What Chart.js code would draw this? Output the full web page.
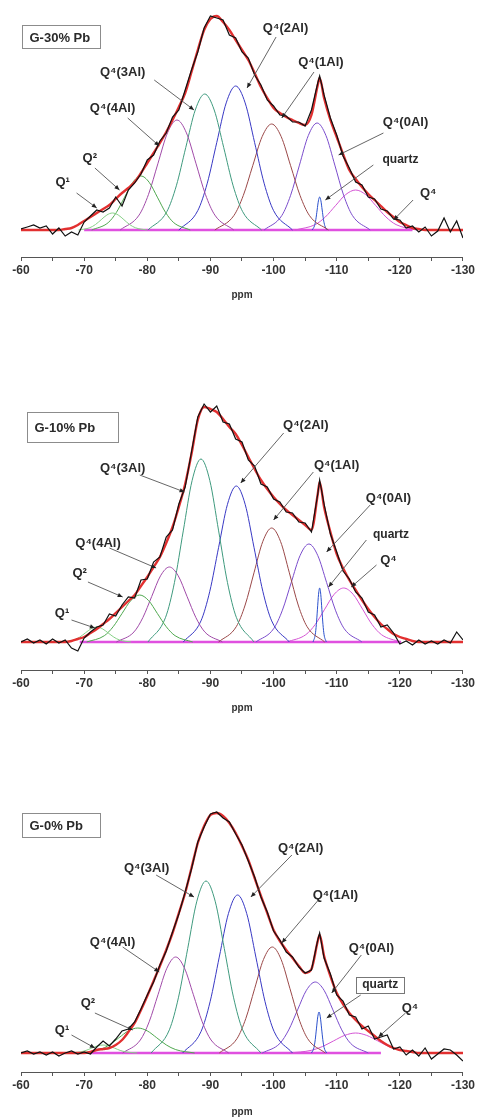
<!DOCTYPE html>
<html><head><meta charset="utf-8">
<script src="https://cdn.jsdelivr.net/npm/chart.js@4.4.1/dist/chart.umd.min.js"></script>
<style>
html,body{margin:0;padding:0;background:#fff;width:477px;height:1118px;overflow:hidden}
.p{position:absolute;left:0;width:477px}
</style></head><body>
<div class="p" style="top:0;height:301px"><canvas id="c30" width="477" height="301"></canvas></div>
<div class="p" style="top:380px;height:334px"><canvas id="c10" width="477" height="334"></canvas></div>
<div class="p" style="top:790px;height:328px"><canvas id="c0" width="477" height="328"></canvas></div>
<script>
// ---------- shared x grid (ppm) ----------
const ppm = [-60,-61,-62,-63,-64,-65,-66,-67,-68,-69,-70,-71,-72,-73,-74,-75,-76,-77,-78,-79,-80,-81,-82,-83,-84,-85,-86,-87,-88,-89,-90,-91,-92,-93,-94,-95,-96,-97,-98,-99,-100,-101,-102,-103,-104,-105,-106,-107,-107.3,-108,-109,-110,-111,-112,-113,-114,-115,-116,-117,-118,-119,-120,-121,-122,-123,-124,-125,-126,-127,-128,-129,-130];
const tickValues = [-60,-70,-80,-90,-100,-110,-120,-130];
const componentNames = ['Q¹','Q²','Q⁴(4Al)','Q⁴(3Al)','Q⁴(2Al)','Q⁴(1Al)','Q⁴(0Al)','quartz','Q⁴'];

// ---------- G-30% Pb ----------
const exp30 = [1,3,5,2,4,-4,2, -6,-2,-5,8,14,20,18,22,33,24, 40,47,56,70,75,89,97,113,120,140, 160,178,202,214,212,210,195,192,178,172, 155,145,130,124,115,114,108,108,104,120, 147, 154, 135,112,95,74,62,48,45,33,31,21,19,11,10,2,4,-2, 3,-6,-1,12,-2,9,-8];
const fit30 = [0,0,0,0,0,0,0, 1,2,5,9,13,17,21,25,31,37, 42,48,57,67,77,87,98,110,123,137, 158,180,200,211,214,208,200,190,180,170, 157,143,132,122,117,113,110,107,105,115, 145, 152, 132,110,93,76,60,51,43,36,30,24,18,13,8,5,2,1, 0,0,0,0,0,0,0];
const g30_Q1   = [[-69.1,0],[-70.9,2.3],[-71.8,5.5],[-72.7,10.3],[-73.6,15],[-74.5,17],[-75.4,15],[-76.3,10.3],[-77.2,5.5],[-78.1,2.3],[-79.9,0]];
const g30_Q2   = [[-71.2,0],[-73.8,7.3],[-75.1,17.5],[-76.4,32.8],[-77.7,47.7],[-79,54],[-80.3,47.7],[-81.6,32.8],[-82.9,17.5],[-84.2,7.3],[-86.8,0]];
const g30_Q4Al = [[-75.7,0],[-78.7,14.9],[-80.2,35.7],[-81.7,66.8],[-83.2,97.1],[-84.7,110],[-86.2,97.1],[-87.7,66.8],[-89.2,35.7],[-90.7,14.9],[-93.7,0]];
const g30_Q3Al = [[-80.1,0],[-83.1,18.4],[-84.6,44.2],[-86.1,82.6],[-87.6,120],[-89.1,136],[-90.6,120],[-92.1,82.6],[-93.6,44.2],[-95.1,18.4],[-98.1,0]];
const g30_Q2Al = [[-85,0],[-88,19.4],[-89.5,46.8],[-91,87.4],[-92.5,127.1],[-94,144],[-95.5,127.1],[-97,87.4],[-98.5,46.8],[-100,19.4],[-103,0]];
const g30_Q1Al = [[-90.7,0],[-93.7,14.3],[-95.2,34.4],[-96.7,64.3],[-98.2,93.5],[-99.7,106],[-101.2,93.5],[-102.7,64.3],[-104.2,34.4],[-105.7,14.3],[-108.7,0]];
const g30_Q0Al = [[-98.5,0],[-101.3,14.4],[-102.7,34.7],[-104.1,64.9],[-105.5,94.4],[-106.9,107],[-108.3,94.4],[-109.7,64.9],[-111.1,34.7],[-112.5,14.4],[-115.3,0]];
const g30_qtz  = [[-106.1,0],[-106.5,4.5],[-106.7,10.7],[-106.9,20],[-107.1,29.1],[-107.3,33],[-107.5,29.1],[-107.7,20],[-107.9,10.7],[-108.1,4.5],[-108.5,0]];
const g30_Q4   = [[-103.4,0],[-106.6,5.4],[-108.2,13],[-109.8,24.3],[-111.4,35.3],[-113,40],[-114.6,35.3],[-116.2,24.3],[-117.8,13],[-119.4,5.4],[-122.6,0]];
const base30   = [[-70,0],[-122,0]];

// ---------- G-10% Pb ----------
const exp10 = [0,3,-1,2,-2,3,-1, 2,-6,-9,4,10,15,17,28,26,37, 45,44,62,63,80,85,105,112,138,155, 190,225,238,230,236,220,218,203,200,182, 176,158,155,143,140,130,129,120,119,110, 148, 162, 138,108,90,71,63,50,44,30,27,15,17,9,-2,1,-3,2, -2,1,-2,2,-1,10,2];
const fit10 = [0,0,0,0,0,0,0, 0,1,3,5,9,13,18,23,29,35, 41,47,56,65,75,85,99,115,135,158, 188,222,235,233,230,223,215,208,197,185, 173,162,153,145,138,132,127,122,117,112, 148, 160, 135,110,88,74,62,52,42,33,25,18,13,8,5,3,1,0, 0,0,0,0,0,0,0];
const g10_Q1   = [[-66.6,0],[-68.4,2],[-69.3,4.9],[-70.2,9.1],[-71.1,13.2],[-72,15],[-72.9,13.2],[-73.8,9.1],[-74.7,4.9],[-75.6,2],[-77.4,0]];
const g10_Q2   = [[-70.4,0],[-73.2,6.3],[-74.6,15.3],[-76,28.5],[-77.4,41.5],[-78.8,47],[-80.2,41.5],[-81.6,28.5],[-83,15.3],[-84.4,6.3],[-87.2,0]];
const g10_Q4Al = [[-75.1,0],[-77.9,10.1],[-79.3,24.4],[-80.7,45.5],[-82.1,66.2],[-83.5,75],[-84.9,66.2],[-86.3,45.5],[-87.7,24.4],[-89.1,10.1],[-91.9,0]];
const g10_Q3Al = [[-80.1,0],[-82.9,24.7],[-84.3,59.4],[-85.7,111.1],[-87.1,161.5],[-88.5,183],[-89.9,161.5],[-91.3,111.1],[-92.7,59.4],[-94.1,24.7],[-96.9,0]];
const g10_Q2Al = [[-85.7,0],[-88.5,21.1],[-89.9,50.7],[-91.3,94.7],[-92.7,137.7],[-94.1,156],[-95.5,137.7],[-96.9,94.7],[-98.3,50.7],[-99.7,21.1],[-102.5,0]];
const g10_Q1Al = [[-91.3,0],[-94.1,15.4],[-95.5,37],[-96.9,69.2],[-98.3,100.6],[-99.7,114],[-101.1,100.6],[-102.5,69.2],[-103.9,37],[-105.3,15.4],[-108.1,0]];
const g10_Q0Al = [[-97.2,0],[-100,13.2],[-101.4,31.8],[-102.8,59.5],[-104.2,86.5],[-105.6,98],[-107,86.5],[-108.4,59.5],[-109.8,31.8],[-111.2,13.2],[-114,0]];
const g10_qtz  = [[-106.25,0],[-106.6,7.3],[-106.775,17.5],[-106.95,32.8],[-107.125,47.7],[-107.3,54],[-107.475,47.7],[-107.65,32.8],[-107.825,17.5],[-108,7.3],[-108.35,0]];
const g10_Q4   = [[-102.1,0],[-105.1,7.3],[-106.6,17.5],[-108.1,32.8],[-109.6,47.7],[-111.1,54],[-112.6,47.7],[-114.1,32.8],[-115.6,17.5],[-117.1,7.3],[-120.1,0]];
const base10   = [[-69.3,0],[-120.2,0]];

// ---------- G-0% Pb ----------
const exp0 = [0,2,-1,1,-2,1,-3, 0,2,-1,1,-1,6,12,7,14,22, 24,31,44,58,71,88,102,121,139,161, 184,211,226,239,241,235,231,219,208,192, 176,156,141,122,113,101,96,86,80,83, 113, 120, 95,79,58,52,38,36,24,27,14,16,18,4,6,-2,3,-3, 5,-6,-1,4,3,-2,-8];
const fit0 = [0,0,0,0,0,0,0, 0,0,0,0,1,3,4,5,8,13, 21,30,43,57,72,87,103,120,140,160, 185,210,227,238,240,237,230,220,207,193, 175,157,140,123,112,103,95,87,80,84, 112, 118, 97,77,60,49,40,33,27,22,17,12,8,5,3,2,1,0, 0,0,0,0,0,0,0];
const g0_Q1   = [[-67.6,0],[-69.4,1.1],[-70.3,2.6],[-71.2,4.9],[-72.1,7.1],[-73,8],[-73.9,7.1],[-74.8,4.9],[-75.7,2.6],[-76.6,1.1],[-78.4,0]];
const g0_Q2   = [[-69.5,0],[-72.5,3.4],[-74,8.1],[-75.5,15.2],[-77,22.1],[-78.5,25],[-80,22.1],[-81.5,15.2],[-83,8.1],[-84.5,3.4],[-87.5,0]];
const g0_Q4Al = [[-76.1,0],[-78.9,13],[-80.3,31.2],[-81.7,58.3],[-83.1,84.7],[-84.5,96],[-85.9,84.7],[-87.3,58.3],[-88.7,31.2],[-90.1,13],[-92.9,0]];
const g0_Q3Al = [[-80.6,0],[-83.5,23.2],[-84.95,55.8],[-86.4,104.4],[-87.85,151.8],[-89.3,172],[-90.75,151.8],[-92.2,104.4],[-93.65,55.8],[-95.1,23.2],[-98,0]];
const g0_Q2Al = [[-85.6,0],[-88.5,21.3],[-89.95,51.3],[-91.4,95.9],[-92.85,139.4],[-94.3,158],[-95.75,139.4],[-97.2,95.9],[-98.65,51.3],[-100.1,21.3],[-103,0]];
const g0_Q1Al = [[-91.4,0],[-94.2,14.3],[-95.6,34.4],[-97,64.3],[-98.4,93.5],[-99.8,106],[-101.2,93.5],[-102.6,64.3],[-104,34.4],[-105.4,14.3],[-108.2,0]];
const g0_Q0Al = [[-98.2,0],[-101,9.6],[-102.4,23.1],[-103.8,43.1],[-105.2,62.7],[-106.6,71],[-108,62.7],[-109.4,43.1],[-110.8,23.1],[-112.2,9.6],[-115,0]];
const g0_qtz  = [[-106,0],[-106.4,5.5],[-106.6,13.3],[-106.8,24.9],[-107,36.2],[-107.2,41],[-107.4,36.2],[-107.6,24.9],[-107.8,13.3],[-108,5.5],[-108.4,0]];
const g0_Q4   = [[-102.5,0],[-106,2.7],[-107.75,6.5],[-109.5,12.1],[-111.25,17.6],[-113,20],[-114.75,17.6],[-116.5,12.1],[-118.25,6.5],[-120,2.7],[-123.5,0]];
const base0   = [[-70.9,0],[-117,0]];

// ---------- styling (not data) ----------
const compColors = ['#86d086','#4fa84f','#a04aa8','#3f9a7e','#3838c4','#9a4848','#7a4ccc','#2a50cc','#d455d4'];
const FONT = '"Liberation Sans", Arial, sans-serif';

const panels = [
  {id:'c30', exp:exp30, fit:fit30, comps:[g30_Q1,g30_Q2,g30_Q4Al,g30_Q3Al,g30_Q2Al,g30_Q1Al,g30_Q0Al,g30_qtz,g30_Q4], base:base30,
   yMin:-27, yMax:225, scaleH:44,
   box:{text:'G-30% Pb', x1:-60.2, x2:-72.5, y1:205, y2:182},
   labels:[
    ['Q¹',-66.6,48,-68.8,37,-72.0,22],
    ['Q²',-70.9,72,-71.7,62,-75.6,40],
    ['Q⁴(4Al)',-74.5,122,-76.9,112,-81.9,84],
    ['Q⁴(3Al)',-76.1,158,-81.1,150,-87.4,120],
    ['Q⁴(2Al)',-101.9,202,-100.4,193,-95.8,142],
    ['Q⁴(1Al)',-107.5,168,-106.4,158,-101.3,112],
    ['Q⁴(0Al)',-120.9,108,-117.4,97,-110.3,75],
    ['quartz',-120.1,70,-115.8,65,-108.2,30],
    ['Q⁴',-124.5,37,-122.1,30,-119,10]
   ]},
  {id:'c10', exp:exp10, fit:fit10, comps:[g10_Q1,g10_Q2,g10_Q4Al,g10_Q3Al,g10_Q2Al,g10_Q1Al,g10_Q0Al,g10_qtz,g10_Q4], base:base10,
   yMin:-28, yMax:257, scaleH:44,
   box:{text:'G-10% Pb', x1:-60.9, x2:-75.3, y1:230, y2:200},
   labels:[
    ['Q¹',-66.5,29,-68.0,22,-71.7,14],
    ['Q²',-69.3,69,-70.6,60,-76.1,45],
    ['Q⁴(4Al)',-72.2,99,-74.0,94,-81.4,74],
    ['Q⁴(3Al)',-76.1,174,-78.8,167,-85.9,150],
    ['Q⁴(2Al)',-105.1,217,-101.6,209,-94.8,159],
    ['Q⁴(1Al)',-110.0,177,-106.3,170,-100.0,122],
    ['Q⁴(0Al)',-118.2,144,-115.3,137,-108.4,90],
    ['quartz',-118.6,107,-114.7,102,-108.7,55],
    ['Q⁴',-118.2,82,-116.3,77,-112.3,55]
   ]},
  {id:'c0', exp:exp0, fit:fit0, comps:[g0_Q1,g0_Q2,g0_Q4Al,g0_Q3Al,g0_Q2Al,g0_Q1Al,g0_Q0Al,g0_qtz,g0_Q4], base:base0,
   yMin:-19, yMax:258, scaleH:46,
   box:{text:'G-0% Pb', x1:-60.2, x2:-72.5, y1:240, y2:216},
   labels:[
    ['Q¹',-66.5,23,-68.0,18,-71.7,5],
    ['Q²',-70.6,50,-71.7,40,-77.7,23],
    ['Q⁴(4Al)',-74.5,111,-76.1,106,-81.9,81],
    ['Q⁴(3Al)',-79.9,185,-81.4,178,-87.4,156],
    ['Q⁴(2Al)',-104.3,205,-102.9,198,-96.4,156],
    ['Q⁴(1Al)',-109.8,158,-107.1,153,-101.3,110],
    ['Q⁴(0Al)',-115.5,105,-113.9,98,-109.2,60],
    ['quartz',-116.9,68,-113.8,58,-108.4,35,true],
    ['Q⁴',-121.6,45,-120.9,40,-116.6,16]
   ]}
];

const annotPlugin = {
  id:'annot',
  afterDatasetsDraw(chart, args, o){
    const ctx = chart.ctx, xs = chart.scales.x, ys = chart.scales.y;
    const X = v => xs.getPixelForValue(v), Y = v => ys.getPixelForValue(v);
    ctx.save();
    const b = o.box;
    const bx1 = Math.round(X(b.x1))+0.5, bx2 = Math.round(X(b.x2))+0.5, by1 = Math.round(Y(b.y1))+0.5, by2 = Math.round(Y(b.y2))+0.5;
    ctx.strokeStyle = '#8c8c8c'; ctx.lineWidth = 1;
    ctx.strokeRect(bx1, by1, bx2-bx1, by2-by1);
    ctx.font = 'bold 13px ' + FONT;
    ctx.fillStyle = '#2a2a2a'; ctx.textBaseline = 'middle'; ctx.textAlign = 'left';
    ctx.fillText(b.text, bx1 + 7, (by1+by2)/2 + 1);
    o.labels.forEach(l => {
      const [t, tx, ty, ax1, ay1, ax2, ay2, boxed] = l;
      const x1 = X(ax1), y1 = Y(ay1), x2 = X(ax2), y2 = Y(ay2);
      ctx.strokeStyle = '#555'; ctx.lineWidth = 0.9;
      ctx.beginPath(); ctx.moveTo(x1,y1); ctx.lineTo(x2,y2); ctx.stroke();
      const ang = Math.atan2(y2-y1, x2-x1), L = 5, W = 2.2;
      ctx.fillStyle = '#222';
      ctx.beginPath();
      ctx.moveTo(x2,y2);
      ctx.lineTo(x2 - L*Math.cos(ang) + W*Math.sin(ang), y2 - L*Math.sin(ang) - W*Math.cos(ang));
      ctx.lineTo(x2 - L*Math.cos(ang) - W*Math.sin(ang), y2 - L*Math.sin(ang) + W*Math.cos(ang));
      ctx.closePath(); ctx.fill();
      ctx.font = (t === 'quartz' ? 'bold 12px ' : 'bold 13px ') + FONT;
      ctx.fillStyle = '#2a2a2a'; ctx.textAlign = 'center'; ctx.textBaseline = 'middle';
      const px = X(tx), py = Y(ty);
      ctx.fillText(t, px, py);
      if (boxed) {
        const w = ctx.measureText(t).width + 12;
        ctx.strokeStyle = '#777'; ctx.lineWidth = 1;
        ctx.strokeRect(Math.round(px - w/2)+0.5, Math.round(py - 8)+0.5, Math.round(w), 16);
      }
    });
    ctx.restore();
  }
};

const toXY = arr => arr.map(([x,y]) => ({x, y}));

panels.forEach(p => {
  const datasets = [];
  datasets.push({label:'experimental', data: ppm.map((x,i)=>({x, y:p.exp[i]})), borderColor:'#111', borderWidth:1.2, order:0, tension:0});
  datasets.push({label:'fit', data: ppm.map((x,i)=>({x, y:p.fit[i]})), borderColor:'#e23030', borderWidth:2.4, order:1, cubicInterpolationMode:'monotone'});
  p.comps.forEach((c, i) => {
    datasets.push({label: componentNames[i], data: toXY(c), borderColor: compColors[i], borderWidth: 1, order: 2, cubicInterpolationMode:'monotone'});
  });
  datasets.push({label:'baseline', data: toXY(p.base), borderColor:'#e050e0', borderWidth:2.5, order:3});
  new Chart(document.getElementById(p.id), {
    type:'line',
    data:{datasets},
    plugins:[annotPlugin],
    options:{
      responsive:false, animation:false, events:[],
      layout:{padding:{left:21, right:12, top:5, bottom:0}},
      elements:{point:{radius:0}, line:{fill:false}},
      plugins:{legend:{display:false}, tooltip:{enabled:false},
        annot:{box:p.box, labels:p.labels}},
      scales:{
        x:{type:'linear', min:-130, max:-60, reverse:true,
          afterFit: s => { s.height = p.scaleH; },
          ticks:{stepSize:5, autoSkip:false, maxRotation:0, padding:2, color:'#333',
            font:{family:FONT, size:12, weight:'bold'},
            callback: v => tickValues.includes(v) ? String(v) : ''},
          grid:{display:true, drawOnChartArea:false, drawTicks:true, tickLength:4, color:'#555'},
          border:{display:true, color:'#555', width:1},
          title:{display:true, text:'ppm', color:'#333', font:{family:FONT, size:10, weight:'bold'}, padding:{top:6,bottom:0}}
        },
        y:{display:false, min:p.yMin, max:p.yMax}
      }
    }
  });
});
</script>
</body></html>
